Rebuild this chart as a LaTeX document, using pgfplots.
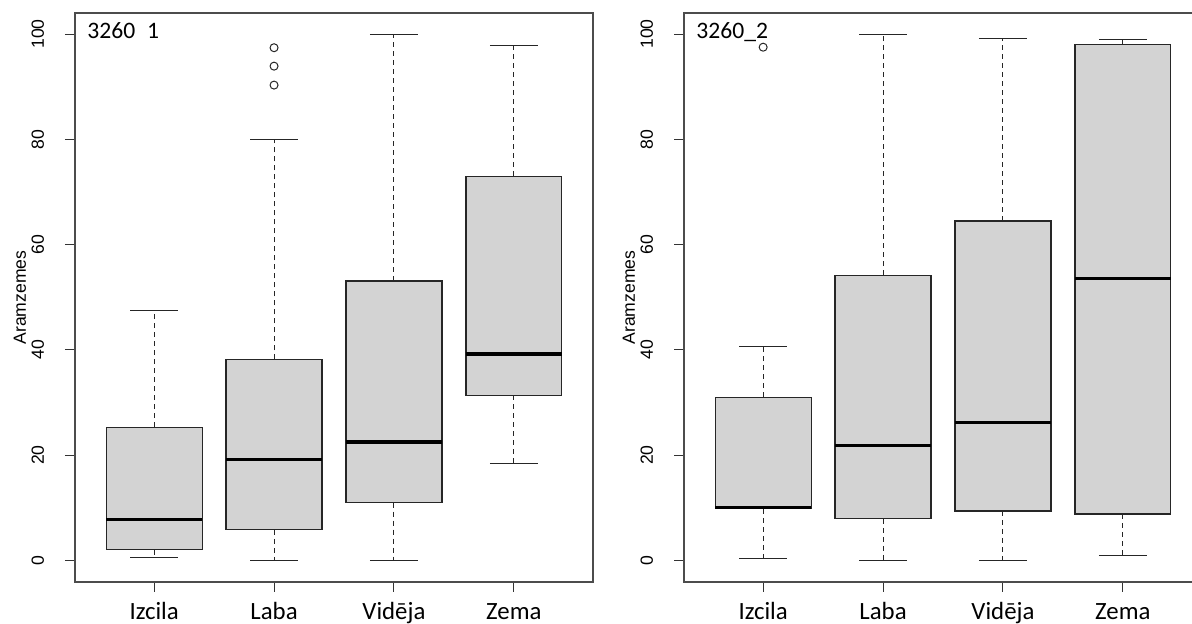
\documentclass[border=0pt]{standalone}
\usepackage{pgfplots}
\pgfplotsset{compat=1.18}
\usepgfplotslibrary{statistics}
\usepackage{fontspec}
\setmainfont{Liberation Sans}
\newfontfamily\calfont{Carlito}
\definecolor{boxfill}{HTML}{D3D3D3}

\pgfplotsset{
  rbox/.style={
    scale only axis, width=259pt, height=284.5pt,
    xmin=0.34, xmax=4.66, ymin=-4.1, ymax=104,
    xtick={1,2,3,4}, xticklabels={Izcila,Laba,Vidēja,Zema},
    ytick={0,20,...,100},
    tick pos=left,
    tick align=outside, major tick length=5pt,
    axis line style={black!70, line width=0.6pt},
    every tick/.style={black!80, line width=0.5pt},
    xticklabel style={font=\calfont\fontsize{12.4}{12.4}\selectfont, anchor=base, yshift=-14pt},
    yticklabel style={font=\fontsize{8.8}{8.8}\selectfont, rotate=90, anchor=south, yshift=7pt},
    /pgf/number format/assume math mode=true,
    ylabel={Aramzemes}, ylabel style={font=\fontsize{8.8}{8.8}\selectfont, at={(axis description cs:0,0.5)}, anchor=center, yshift=27.5pt},
    title style={font=\calfont\fontsize{11.8}{11.8}\selectfont, at={(rel axis cs:0,1)}, anchor=north west, xshift=6pt, yshift=-10.5pt, inner sep=0pt},
    boxplot/draw direction=y,
    boxplot/box extend=0.8,
    boxplot/whisker extend=0.4,
    boxplot/every box/.style={draw=black!85, fill=boxfill, line width=0.6pt},
    boxplot/every median/.style={black, line width=1.6pt},
    boxplot/draw/lower whisker/.code={
      \draw[black!85, line width=0.5pt, dash pattern=on 2.5pt off 2pt]
        (boxplot box cs:\pgfplotsboxplotvalue{lower quartile},0.5) --
        (boxplot box cs:\pgfplotsboxplotvalue{lower whisker},0.5);
      \draw[black!85, line width=0.5pt]
        (boxplot whisker cs:\pgfplotsboxplotvalue{lower whisker},0) --
        (boxplot whisker cs:\pgfplotsboxplotvalue{lower whisker},1);
    },
    boxplot/draw/upper whisker/.code={
      \draw[black!85, line width=0.5pt, dash pattern=on 2.5pt off 2pt]
        (boxplot box cs:\pgfplotsboxplotvalue{upper quartile},0.5) --
        (boxplot box cs:\pgfplotsboxplotvalue{upper whisker},0.5);
      \draw[black!85, line width=0.5pt]
        (boxplot whisker cs:\pgfplotsboxplotvalue{upper whisker},0) --
        (boxplot whisker cs:\pgfplotsboxplotvalue{upper whisker},1);
    },
  },
  rb/.style={black, mark=o, mark size=2pt, mark options={black!85, line width=0.5pt, fill=none}},
}

\begin{document}
\begin{tikzpicture}
\useasboundingbox (0,0) rectangle (596pt,312pt);

% Panel 1
\begin{axis}[rbox, at={(37.5pt,21pt)}, anchor=south west, title={3260\phantom{\_}1}]
\addplot[rb, boxplot prepared={draw position=1, lower whisker=0.6, lower quartile=2.0, median=7.8, upper quartile=25.3, upper whisker=47.4}] coordinates {};
\addplot[rb, boxplot prepared={draw position=2, lower whisker=0, lower quartile=5.8, median=19.1, upper quartile=38.2, upper whisker=80.0}]
  table[row sep=\\, y index=0] {y\\ 90.3\\ 93.9\\ 97.4\\};
\addplot[rb, boxplot prepared={draw position=3, lower whisker=0, lower quartile=11.0, median=22.5, upper quartile=53.1, upper whisker=100}] coordinates {};
\addplot[rb, boxplot prepared={draw position=4, lower whisker=18.5, lower quartile=31.4, median=39.2, upper quartile=73.0, upper whisker=97.8}] coordinates {};
\end{axis}

% Panel 2
\begin{axis}[rbox, at={(342pt,21pt)}, anchor=south west, title={3260\_2}]
\addplot[rb, boxplot prepared={draw position=1, lower whisker=0.4, lower quartile=9.8, median=10.1, upper quartile=31.0, upper whisker=40.7}]
  table[row sep=\\, y index=0] {y\\ 97.5\\};
\addplot[rb, boxplot prepared={draw position=2, lower whisker=0, lower quartile=7.9, median=21.8, upper quartile=54.2, upper whisker=100}] coordinates {};
\addplot[rb, boxplot prepared={draw position=3, lower whisker=0, lower quartile=9.4, median=26.2, upper quartile=64.5, upper whisker=99.2}] coordinates {};
\addplot[rb, boxplot prepared={draw position=4, lower whisker=0.9, lower quartile=8.8, median=53.5, upper quartile=98.0, upper whisker=99.0}] coordinates {};
\end{axis}
\end{tikzpicture}
\end{document}
